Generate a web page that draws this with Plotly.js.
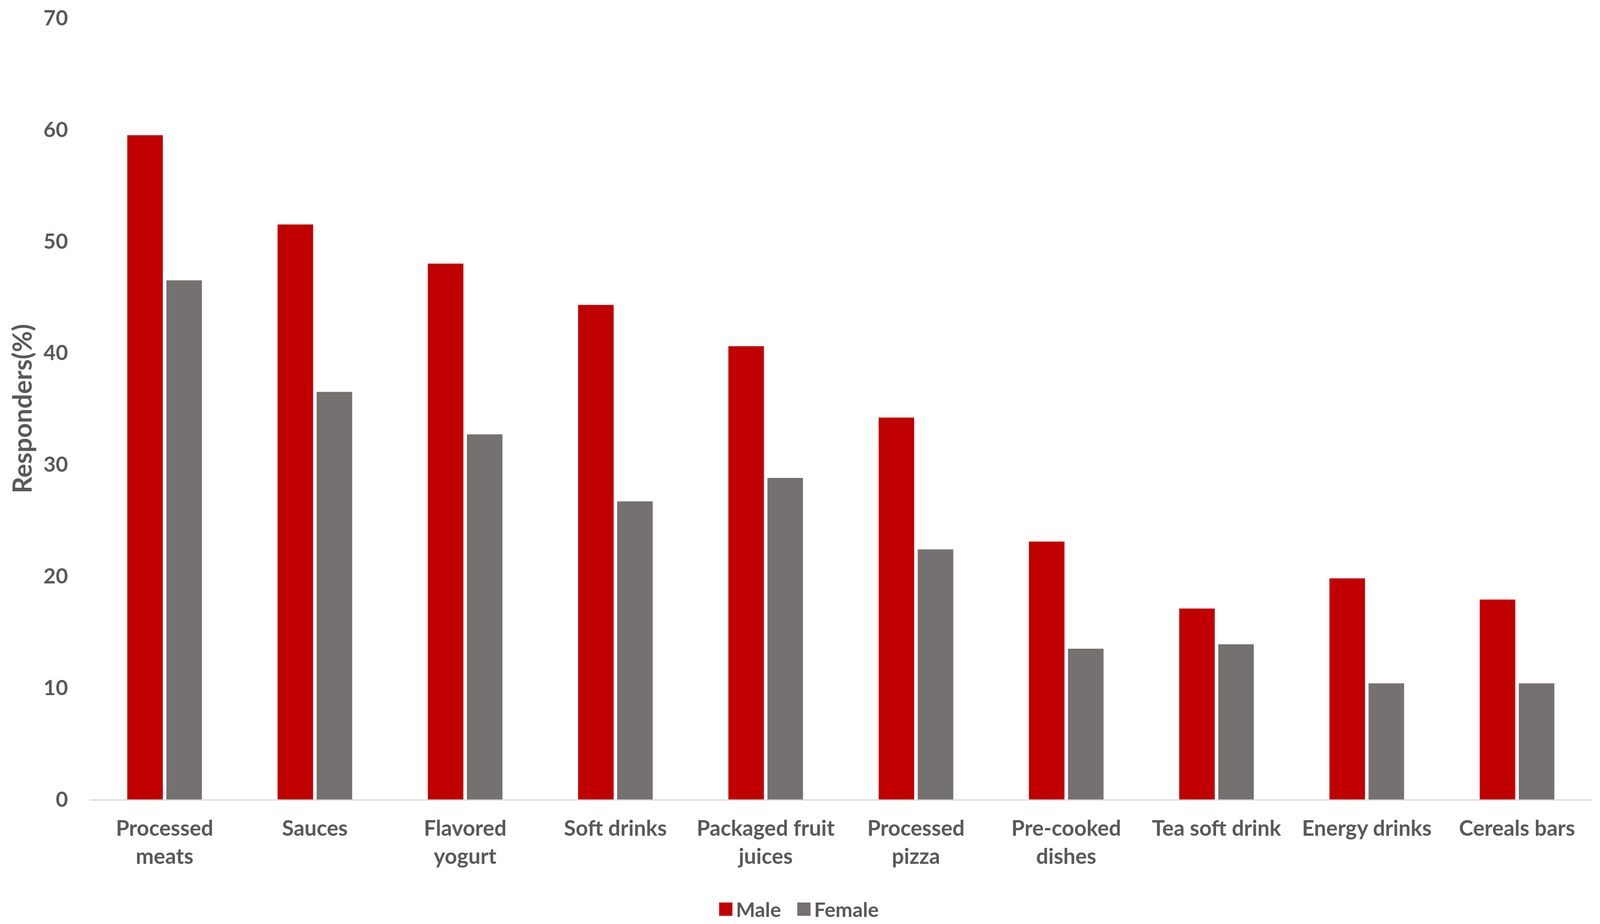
<!DOCTYPE html>
<html>
<head>
<meta charset="utf-8">
<script src="https://cdn.plot.ly/plotly-3.0.1.min.js"></script>
<style>
  html, body { margin: 0; padding: 0; background: #fff; overflow: hidden; }
  #chart { width: 100vw; height: 100vh; }
</style>
</head>
<body>
<div id="chart"></div>
<script>
// Ultra-processed food consumption by gender
const categories = [
    'Processed<br>meats', 'Sauces', 'Flavored<br>yogurt', 'Soft drinks',
    'Packaged fruit<br>juices', 'Processed<br>pizza', 'Pre-cooked<br>dishes',
    'Tea soft drink', 'Energy drinks', 'Cereals bars'
];
const maleValues = [59.5, 51.5, 48.0, 44.3, 40.6, 34.2, 23.1, 17.1, 19.8, 17.9];
const femaleValues = [46.5, 36.5, 32.7, 26.7, 28.8, 22.4, 13.5, 13.9, 10.4, 10.4];
const yTicks = [0, 10, 20, 30, 40, 50, 60, 70];

const theme = {
    male: '#C00000',
    female: '#767171',
    text: '#595959',
    axis: '#D9D9D9',
    font: 'Lato, "Open Sans", sans-serif'
};

// layout is measured on a 4249 x 2366 page, scale to the real viewport
const W = window.innerWidth || 4249;
const H = window.innerHeight || 2366;
const sx = W / 4249;
const sy = H / 2366;
const fx = v => Math.round(v * sx);
const fy = v => Math.round(v * sy);
const fs = v => Math.round(v * Math.min(sx, sy));

const traces = [
    {
        type: 'bar',
        name: 'Male',
        x: categories,
        y: maleValues,
        legendwidth: fs(151),
        marker: { color: theme.male, line: { width: 0 } }
    },
    {
        type: 'bar',
        name: 'Female',
        x: categories,
        y: femaleValues,
        legendwidth: fs(178),
        marker: { color: theme.female, line: { width: 0 } }
    }
];

const legendItemWidth = Math.max(30, fs(40));

const layout = {
    width: W,
    height: H,
    paper_bgcolor: '#fff',
    plot_bgcolor: '#fff',
    font: { family: theme.font, color: theme.text, size: fs(56) },
    barmode: 'group',
    bargap: 0.48,
    bargroupgap: 0.09,
    margin: { l: fx(238), r: fx(21), t: fy(46), b: fy(319), autoexpand: false },
    showlegend: true,
    legend: {
        orientation: 'h',
        xref: 'container', yref: 'container',
        x: 0.5, xanchor: 'center',
        y: 0.016, yanchor: 'middle',
        font: { size: fs(54), color: theme.text, weight: 'bold' },
        itemwidth: legendItemWidth,
        entrywidthmode: 'pixels',
        tracegroupgap: 0
    },
    xaxis: {
        type: 'category',
        showgrid: false,
        zeroline: false,
        showline: true,
        linecolor: theme.axis,
        linewidth: Math.max(1, fs(3)),
        ticks: '',
        ticklabelstandoff: fy(24),
        tickfont: { size: fs(57), color: theme.text, weight: 'bold' },
        automargin: false
    },
    yaxis: {
        range: [0, 70],
        tickvals: yTicks,
        ticktext: yTicks.map(String),
        showgrid: false,
        zeroline: false,
        showline: false,
        ticks: '',
        ticklabelstandoff: fx(56),
        tickfont: { size: fs(56), color: theme.text, weight: 'bold' },
        title: {
            text: 'Responders(%)',
            standoff: fx(8),
            font: { size: fs(68), color: theme.text, weight: 'bold' }
        },
        automargin: false
    }
};

Plotly.newPlot('chart', traces, layout, { displayModeBar: false, staticPlot: true }).then(gd => {
    // bar legend swatches are a fixed 12 px square; resize them to match the page
    const half = fs(17.5);
    const cx = legendItemWidth + 10 - fs(9) - half;
    gd.querySelectorAll('.legend .legendpoints path').forEach(p => {
        p.setAttribute('d', `M${half},${half}H${-half}V${-half}H${half}Z`);
        p.setAttribute('transform', `translate(${cx},0)`);
    });
});
</script>
</body>
</html>
